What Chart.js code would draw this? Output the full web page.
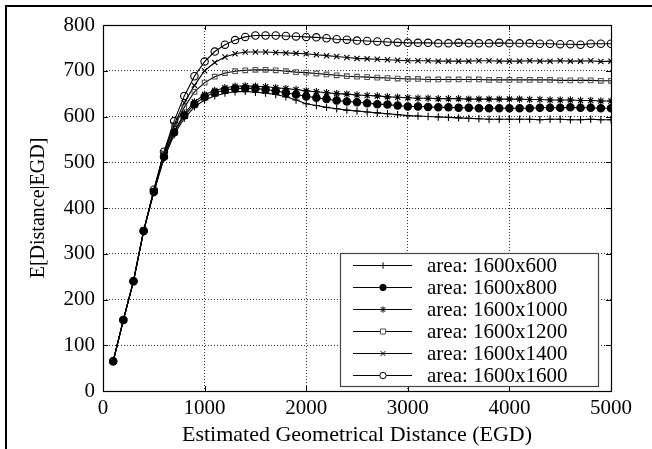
<!DOCTYPE html>
<html lang="en">
<head>
<meta charset="UTF-8">
<title>E[Distance|EGD] vs EGD</title>
<script src="https://cdn.jsdelivr.net/npm/chart.js"></script>
<style>
  body { margin: 0; background: #fff; }
  #wrap { position: relative; width: 652px; height: 449px; overflow: hidden; }
  #frame {
    position: absolute; left: 5px; top: 5px; right: -5px; bottom: -5px;
    border-top: 2px solid #000; border-left: 2px solid #000; pointer-events: none;
  }
</style>
</head>
<body>
<div id="wrap">
  <canvas id="egdChart" width="652" height="449"></canvas>
  <div id="frame"></div>
</div>
<script>
// estimated geometrical distance (x)
const egd = [100, 200, 300, 400, 500, 600, 700, 800, 900, 1000,
  1100, 1200, 1300, 1400, 1500, 1600, 1700, 1800, 1900, 2000,
  2100, 2200, 2300, 2400, 2500, 2600, 2700, 2800, 2900, 3000,
  3100, 3200, 3300, 3400, 3500, 3600, 3700, 3800, 3900, 4000,
  4100, 4200, 4300, 4400, 4500, 4600, 4700, 4800, 4900, 5000];

const area600 = [65, 155, 240, 350, 434, 508, 560, 596, 621, 636,
  645, 651, 654, 655, 653, 651, 648, 643, 636, 628,
  624, 620, 617, 614, 612, 610, 608, 606, 604, 602,
  601, 600, 599, 598, 597, 596, 595, 594, 594, 594,
  594, 594, 593, 594, 594, 593, 593, 594, 593, 593];
const area800 = [65, 155, 240, 350, 435, 512, 565, 602, 627, 643,
  652, 658, 661, 662, 661, 659, 656, 652, 648, 644,
  641, 638, 635, 633, 631, 629, 627, 626, 624, 622,
  622, 621, 620, 620, 619, 619, 618, 618, 618, 618,
  618, 618, 619, 619, 619, 620, 619, 619, 618, 618];
const area1000 = [65, 155, 240, 350, 436, 515, 568, 606, 632, 648,
  657, 663, 666, 667, 666, 665, 663, 661, 659, 656,
  654, 652, 650, 649, 647, 646, 645, 643, 642, 641,
  640, 640, 639, 639, 639, 638, 638, 638, 638, 638,
  638, 637, 637, 636, 636, 636, 635, 635, 634, 634];
const area1200 = [65, 155, 240, 350, 437, 518, 577, 620, 654, 674,
  687, 695, 699, 701, 702, 702, 701, 699, 697, 696,
  694, 692, 690, 688, 687, 686, 685, 684, 683, 682,
  682, 681, 681, 681, 681, 681, 681, 680, 680, 680,
  680, 680, 680, 680, 679, 679, 679, 679, 678, 678];
const area1400 = [65, 155, 240, 350, 438, 520, 582, 630, 668, 700,
  718, 730, 737, 741, 741, 741, 740, 739, 738, 737,
  735, 733, 731, 729, 727, 726, 725, 724, 723, 722,
  722, 722, 721, 721, 721, 721, 722, 722, 721, 721,
  721, 722, 721, 721, 722, 721, 721, 722, 720, 721];
const area1600 = [65, 155, 240, 350, 440, 523, 590, 645, 688, 720,
  742, 757, 767, 774, 777, 777, 777, 776, 775, 774,
  773, 771, 769, 768, 766, 765, 764, 763, 762, 761,
  761, 761, 760, 760, 761, 760, 760, 760, 761, 760,
  760, 760, 759, 759, 758, 758, 757, 759, 759, 759];

const seriesLabels = ['area: 1600x600', 'area: 1600x800', 'area: 1600x1000',
  'area: 1600x1200', 'area: 1600x1400', 'area: 1600x1600'];
const xTicks = [0, 1000, 2000, 3000, 4000, 5000];
const yTicks = [0, 100, 200, 300, 400, 500, 600, 700, 800];

const serif = "'Liberation Serif', 'DejaVu Serif', serif";
Chart.defaults.font.family = serif;
Chart.defaults.color = '#000';

const markers = [
  { style: 'cross', fill: 'rgba(0,0,0,0)', color: '#000' },
  { style: 'circle', fill: '#000', color: '#000' },
  { style: 'star', fill: 'rgba(0,0,0,0)', color: '#000' },
  { style: 'rect', fill: 'rgba(0,0,0,0)', color: '#555' },
  { style: 'crossRot', fill: 'rgba(0,0,0,0)', color: '#000' },
  { style: 'circle', fill: 'rgba(0,0,0,0)', color: '#000' }
];

function toPoints(ys) {
  return egd.map((x, i) => ({ x: x, y: ys[i] }));
}

const allSeries = [area600, area800, area1000, area1200, area1400, area1600];

const datasets = allSeries.map((ys, i) => ({
  label: seriesLabels[i],
  data: toPoints(ys),
  borderColor: '#000',
  borderWidth: 1.1,
  pointStyle: markers[i].style,
  pointRadius: markers[i].style === 'rect' ? 3.3 : 3.7,
  pointBorderWidth: 1.1,
  pointBorderColor: markers[i].color,
  pointBackgroundColor: markers[i].fill,
  tension: 0
}));

function drawMarker(ctx, style, x, y, r, fill, color) {
  ctx.save();
  ctx.strokeStyle = color;
  ctx.lineWidth = 1;
  ctx.beginPath();
  if (style === 'cross' || style === 'star') {
    ctx.moveTo(x - r, y); ctx.lineTo(x + r, y);
    ctx.moveTo(x, y - r); ctx.lineTo(x, y + r);
  }
  if (style === 'crossRot' || style === 'star') {
    const d = r * 0.75;
    ctx.moveTo(x - d, y - d); ctx.lineTo(x + d, y + d);
    ctx.moveTo(x - d, y + d); ctx.lineTo(x + d, y - d);
  }
  if (style === 'rect') {
    ctx.rect(x - r * 0.8, y - r * 0.8, r * 1.6, r * 1.6);
    ctx.fillStyle = '#fff';
    ctx.fill();
  }
  if (style === 'circle') {
    ctx.arc(x, y, r, 0, Math.PI * 2);
    ctx.fillStyle = fill === '#000' ? '#000' : '#fff';
    ctx.fill();
  }
  ctx.stroke();
  ctx.restore();
}

// plot frame with inward tick marks (gnuplot style)
const frameTicks = {
  id: 'frameTicks',
  afterDatasetsDraw(chart) {
    const { ctx, chartArea: a, scales } = chart;
    ctx.save();
    ctx.strokeStyle = '#000';
    ctx.lineWidth = 1;
    ctx.beginPath();
    xTicks.forEach(v => {
      const px = Math.round(scales.x.getPixelForValue(v)) + 0.5;
      ctx.moveTo(px, a.bottom); ctx.lineTo(px, a.bottom - 5);
      ctx.moveTo(px, a.top); ctx.lineTo(px, a.top + 5);
    });
    yTicks.forEach(v => {
      const py = Math.round(scales.y.getPixelForValue(v)) + 0.5;
      ctx.moveTo(a.left, py); ctx.lineTo(a.left + 5, py);
      ctx.moveTo(a.right, py); ctx.lineTo(a.right - 5, py);
    });
    ctx.stroke();
    ctx.lineWidth = 1.2;
    ctx.strokeRect(Math.round(a.left) + 0.5, Math.round(a.top) + 0.5,
      Math.round(a.right - a.left), Math.round(a.bottom - a.top));
    ctx.restore();
  }
};

// legend box in the lower right of the plot
const boxLegend = {
  id: 'boxLegend',
  afterDatasetsDraw(chart) {
    const { ctx, chartArea: a } = chart;
    const w = 258, h = 133;
    const left = a.right - 13 - w, top = a.bottom - 5 - h;
    ctx.save();
    ctx.fillStyle = '#fff';
    ctx.fillRect(left, top, w, h);
    ctx.strokeStyle = '#444';
    ctx.lineWidth = 1.2;
    ctx.strokeRect(left + 0.5, top + 0.5, w, h);
    ctx.font = '21px ' + serif;
    ctx.textBaseline = 'middle';
    ctx.textAlign = 'left';
    seriesLabels.forEach((lab, i) => {
      const y = top + 12.5 + i * 22;
      ctx.strokeStyle = '#000';
      ctx.lineWidth = 1;
      ctx.beginPath();
      ctx.moveTo(left + 13, y); ctx.lineTo(left + 72, y);
      ctx.stroke();
      drawMarker(ctx, markers[i].style, left + 43, y, 3.2, markers[i].fill, markers[i].color);
      ctx.fillStyle = '#000';
      ctx.fillText(lab, left + 87, y + 1);
    });
    ctx.restore();
  }
};

new Chart(document.getElementById('egdChart'), {
  type: 'line',
  data: { datasets: datasets },
  options: {
    responsive: false,
    animation: false,
    devicePixelRatio: 1,
    layout: { padding: { top: 25, right: 41, left: 0, bottom: 0 } },
    plugins: { legend: { display: false }, tooltip: { enabled: false } },
    scales: {
      x: {
        type: 'linear',
        min: 0,
        max: 5000,
        afterFit(scale) { scale.height = 58; },
        afterBuildTicks(scale) { scale.ticks = xTicks.map(v => ({ value: v })); },
        ticks: {
          color: '#000', padding: 5, maxRotation: 0,
          font: { family: serif, size: 21 },
          callback: v => String(v)
        },
        grid: { color: '#333', lineWidth: 1, drawTicks: false },
        border: { display: false, dash: [1, 2] },
        title: {
          display: true,
          text: 'Estimated Geometrical Distance (EGD)',
          color: '#000',
          font: { family: serif, size: 22 },
          padding: { top: 0, bottom: 1 }
        }
      },
      y: {
        type: 'linear',
        min: 0,
        max: 800,
        afterFit(scale) { scale.width = 103; },
        afterBuildTicks(scale) { scale.ticks = yTicks.map(v => ({ value: v })); },
        ticks: {
          color: '#000', padding: 8,
          font: { family: serif, size: 21 },
          callback: v => String(v)
        },
        grid: { color: '#333', lineWidth: 1, drawTicks: false },
        border: { display: false, dash: [1, 2] },
        title: {
          display: true,
          text: 'E[Distance|EGD]',
          color: '#000',
          font: { family: serif, size: 20 },
          padding: { top: 27, bottom: 0 }
        }
      }
    }
  },
  plugins: [frameTicks, boxLegend]
});
</script>
</body>
</html>
